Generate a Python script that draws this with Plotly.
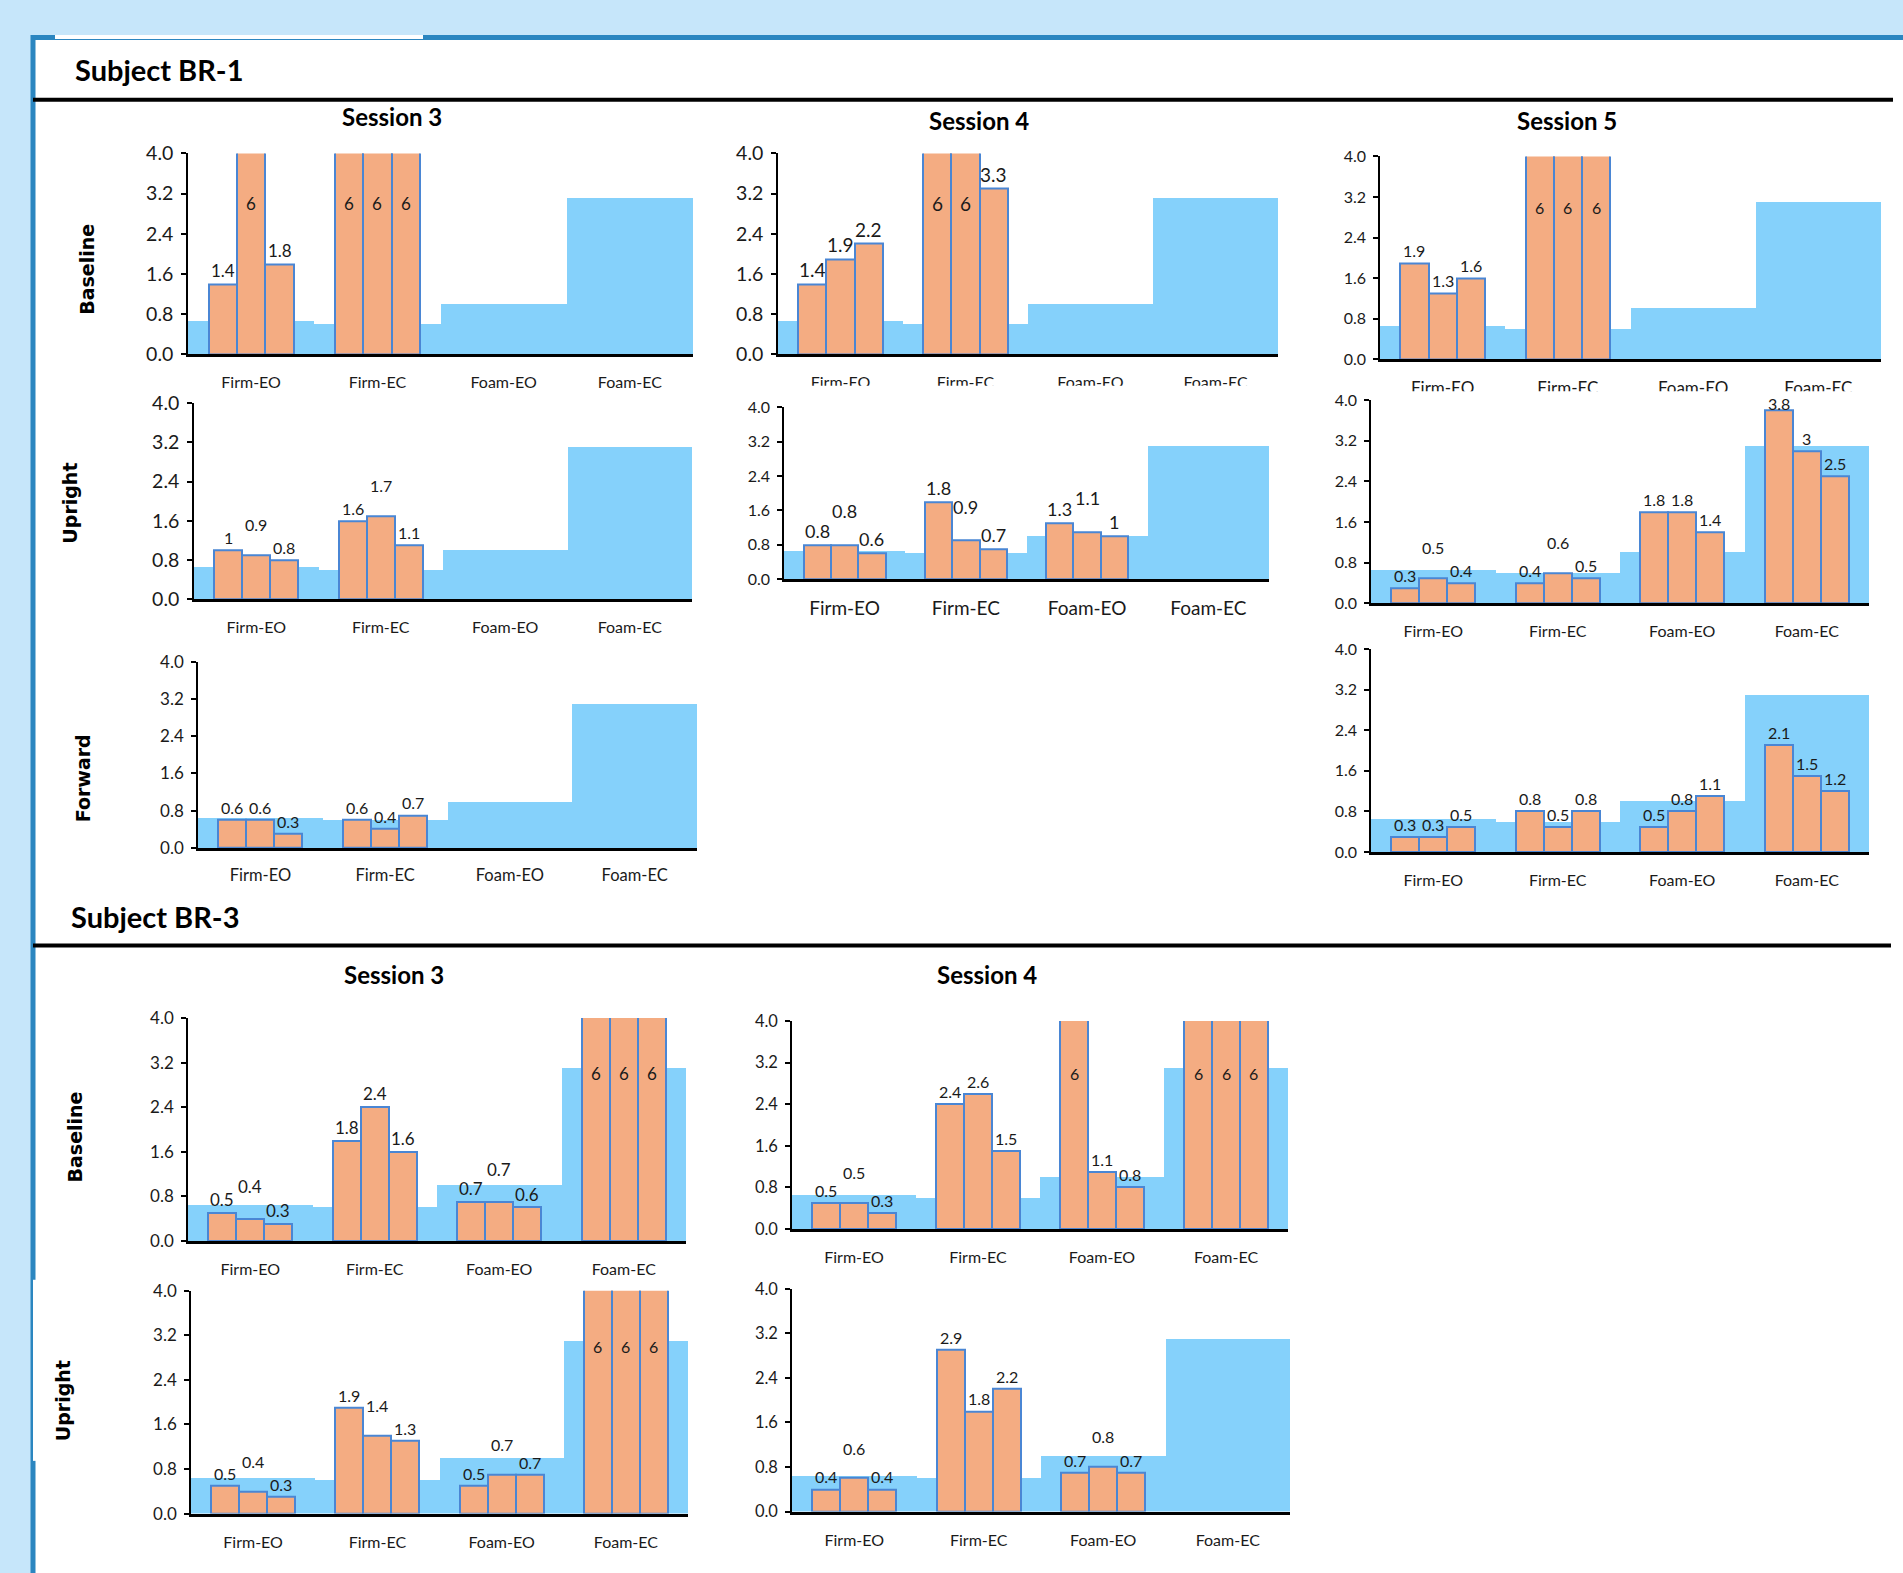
import plotly.graph_objects as go

W, H = 1903, 1573

# ---------------- data ----------------
categories = ["Firm-EO", "Firm-EC", "Foam-EO", "Foam-EC"]
norm_levels = [0.65, 0.6, 1.0, 3.1]          # light-blue reference band per condition
y_ticks = [0.0, 0.8, 1.6, 2.4, 3.2, 4.0]
y_max = 4.0

# values per condition (three trials each); [] = not tested
br1_s3_baseline = [[1.4, 6, 1.8], [6, 6, 6], [], []]
br1_s3_upright = [[1, 0.9, 0.8], [1.6, 1.7, 1.1], [], []]
br1_s3_forward = [[0.6, 0.6, 0.3], [0.6, 0.4, 0.7], [], []]
br1_s4_baseline = [[1.4, 1.9, 2.2], [6, 6, 3.3], [], []]
br1_s4_upright = [[0.8, 0.8, 0.6], [1.8, 0.9, 0.7], [1.3, 1.1, 1], []]
br1_s5_baseline = [[1.9, 1.3, 1.6], [6, 6, 6], [], []]
br1_s5_upright = [[0.3, 0.5, 0.4], [0.4, 0.6, 0.5], [1.8, 1.8, 1.4], [3.8, 3, 2.5]]
br1_s5_forward = [[0.3, 0.3, 0.5], [0.8, 0.5, 0.8], [0.5, 0.8, 1.1], [2.1, 1.5, 1.2]]
br3_s3_baseline = [[0.5, 0.4, 0.3], [1.8, 2.4, 1.6], [0.7, 0.7, 0.6], [6, 6, 6]]
br3_s3_upright = [[0.5, 0.4, 0.3], [1.9, 1.4, 1.3], [0.5, 0.7, 0.7], [6, 6, 6]]
br3_s4_baseline = [[0.5, 0.5, 0.3], [2.4, 2.6, 1.5], [6, 1.1, 0.8], [6, 6, 6]]
br3_s4_upright = [[0.4, 0.6, 0.4], [2.9, 1.8, 2.2], [0.7, 0.8, 0.7], []]

subjects = ["Subject BR-1", "Subject BR-3"]
sessions = ["Session 3", "Session 4", "Session 5"]
conditions = ["Baseline", "Upright", "Forward"]

# ---------------- style ----------------
BG = "#c6e6fa"
BORDER = "#2b86c0"
BLUE = "#85d1fb"
ORANGE = "#f4ac82"
EDGE = "#4a86d4"
TXT = "#1a1a1a"
FONT = "Lato"
ROWFONT = "DejaVu Sans"

# panel boxes in pixels: x0 (y axis), x1 (end), y_top (4.0), y_bot (0.0),
# y-tick font, x-tick font, value-label font, lift crowded middle labels
panels = [
    (br1_s3_baseline, 188, 693, 152, 354, 19.5, 16, 17, True),
    (br1_s3_upright, 194, 692, 403, 600, 19.5, 16, 16, True),
    (br1_s3_forward, 198, 697, 663, 850, 17, 16.5, 16, False),
    (br1_s4_baseline, 778, 1278, 152, 354, 19.5, 16, 19, True),
    (br1_s4_upright, 784, 1269, 407, 580, 16, 19, 18, True),
    (br1_s5_baseline, 1380, 1881, 155, 359, 16, 17, 16, True),
    (br1_s5_upright, 1371, 1869, 400, 604, 16, 16, 16, True),
    (br1_s5_forward, 1371, 1869, 650, 854, 16, 16, 16, False),
    (br3_s3_baseline, 188, 686, 1021, 1245, 17, 16, 17, True),
    (br3_s3_upright, 191, 688, 1295, 1519, 17, 16, 16, True),
    (br3_s4_baseline, 792, 1288, 1024, 1233, 16.5, 16, 16, True),
    (br3_s4_upright, 792, 1290, 1293, 1517, 16.5, 16, 16, True),
]

# the captured page shows the figure slightly compressed vertically; compensate
Y_OFF, Y_SCALE = 9.9, 0.9903


def px(x):
    return x / W


def py(y):
    return 1 - ((y - Y_OFF) / Y_SCALE) / H


fig = go.Figure()
annotations = []
layout = {}

bar_w = 0.225
offsets = [-1.5 * bar_w, -0.5 * bar_w, 0.5 * bar_w]
xs = list(range(len(categories)))

for n, (data, x0, x1, yt, yb, yfs, xfs, lfs, dodge) in enumerate(panels, start=1):
    xa = "x" if n == 1 else f"x{n}"
    ya = "y" if n == 1 else f"y{n}"
    # reference band
    fig.add_trace(go.Bar(x=xs, y=norm_levels, width=1.0, xaxis=xa, yaxis=ya,
                         marker=dict(color=BLUE, line=dict(width=0)),
                         showlegend=False, hoverinfo="skip"))
    for j in range(3):
        vals = [c[j] if len(c) > j else None for c in data]
        fig.add_trace(go.Bar(x=xs, y=vals, width=bar_w, offset=offsets[j],
                             xaxis=xa, yaxis=ya,
                             marker=dict(color=ORANGE, line=dict(color=EDGE, width=2)),
                             showlegend=False))
    # value labels (middle label lifted when it would collide with a neighbour)
    for ci, cond in enumerate(data):
        for j, v in enumerate(cond):
            clipped = v >= y_max
            shift = 1
            if dodge and j == 1 and not clipped and v <= 1.7:
                if any(abs(v - cond[k]) < 0.25 for k in (0, 2)):
                    shift = 1 + lfs * 1.1
            if not clipped and v > 0.9 * y_max:
                shift = -5
            annotations.append(dict(
                x=ci + offsets[j] + bar_w / 2, y=(0.75 * y_max if clipped else v),
                xref=xa, yref=ya, text=f"{v:g}", showarrow=False,
                yanchor="middle" if clipped else "bottom", yshift=0 if clipped else shift,
                font=dict(family=FONT, size=lfs, color=TXT)))
    xkey = "xaxis" if n == 1 else f"xaxis{n}"
    ykey = "yaxis" if n == 1 else f"yaxis{n}"
    layout[xkey] = dict(domain=[px(x0), px(x1)], anchor=ya, range=[-0.5, 3.5],
                        tickvals=xs, ticktext=categories, ticks="", showline=True,
                        linecolor="black", linewidth=2.5, showgrid=False, zeroline=False,
                        tickfont=dict(family=FONT, size=xfs, color=TXT),
                        ticklabelstandoff=int(25 - 4 - 0.55 * xfs), fixedrange=True)
    layout[ykey] = dict(domain=[py(yb), py(yt)], anchor=xa, range=[0, y_max],
                        tickvals=y_ticks, ticktext=[f"{t:.1f}" for t in y_ticks],
                        ticks="outside", ticklen=5, tickwidth=1.5, tickcolor="black",
                        ticklabelstandoff=4,
                        showline=True, linecolor="black", linewidth=1.5,
                        showgrid=False, zeroline=False,
                        tickfont=dict(family=FONT, size=yfs, color=TXT), fixedrange=True)

# session titles
for text, x, y in [(sessions[0], 392, 115), (sessions[1], 979, 119), (sessions[2], 1567, 119),
                   (sessions[0], 394, 977), (sessions[1], 987, 977)]:
    annotations.append(dict(x=px(x), y=py(y), xref="paper", yref="paper", text=f"<b>{text}</b>",
                            showarrow=False, xanchor="center", yanchor="middle",
                            font=dict(family=FONT, size=24, color="black")))

# row labels
for text, x, y in [(conditions[0], 87, 269), (conditions[1], 70, 504), (conditions[2], 83, 780),
                   (conditions[0], 75, 1141), (conditions[1], 63, 1405)]:
    annotations.append(dict(x=px(x), y=py(y), xref="paper", yref="paper", text=f"<b>{text}</b>",
                            textangle=-90, showarrow=False, xanchor="center", yanchor="middle",
                            font=dict(family=ROWFONT, size=19, color="black")))

# subject headers
for text, x, y in [(subjects[0], 73, 68), (subjects[1], 69, 919)]:
    annotations.append(dict(x=px(x), y=py(y), xref="paper", yref="paper", text=f"<b>{text}</b>",
                            showarrow=False, xanchor="left", yanchor="middle",
                            font=dict(family=FONT, size=29, color="black")))

shapes = [
    # white panel with blue border
    dict(type="rect", xref="paper", yref="paper", x0=px(33), x1=px(W + 20), y0=py(H + 40), y1=py(35.5),
         fillcolor="white", line=dict(color=BORDER, width=5), layer="below"),
    # small white overlap on top border
    dict(type="rect", xref="paper", yref="paper", x0=px(55), x1=px(423), y0=py(37), y1=py(33),
         fillcolor="white", line=dict(width=0), layer="below"),
    dict(type="rect", xref="paper", yref="paper", x0=px(33), x1=px(36), y0=py(1466), y1=py(1284),
         fillcolor="white", line=dict(width=0), layer="below"),
    # chart frames of Session 4 / 5 (top row) crop the lower part of their category labels
    dict(type="rect", xref="paper", yref="paper", x0=px(795), x1=px(1290), y0=py(396), y1=py(385.5),
         fillcolor="white", line=dict(width=0), layer="above"),
    dict(type="rect", xref="paper", yref="paper", x0=px(1395), x1=px(1903), y0=py(397), y1=py(391),
         fillcolor="white", line=dict(width=0), layer="above"),
    # black section rules
    dict(type="line", xref="paper", yref="paper", x0=px(33), x1=px(1893), y0=py(98), y1=py(98),
         line=dict(color="black", width=4)),
    dict(type="line", xref="paper", yref="paper", x0=px(33), x1=px(1891), y0=py(948), y1=py(948),
         line=dict(color="black", width=4)),
]

fig.update_layout(width=W, height=H, margin=dict(l=0, r=0, t=0, b=0),
                  paper_bgcolor=BG, plot_bgcolor="rgba(0,0,0,0)", barmode="overlay",
                  bargap=0, annotations=annotations, shapes=shapes, showlegend=False,
                  **layout)

fig.write_html("out.html", config={"displayModeBar": False})
